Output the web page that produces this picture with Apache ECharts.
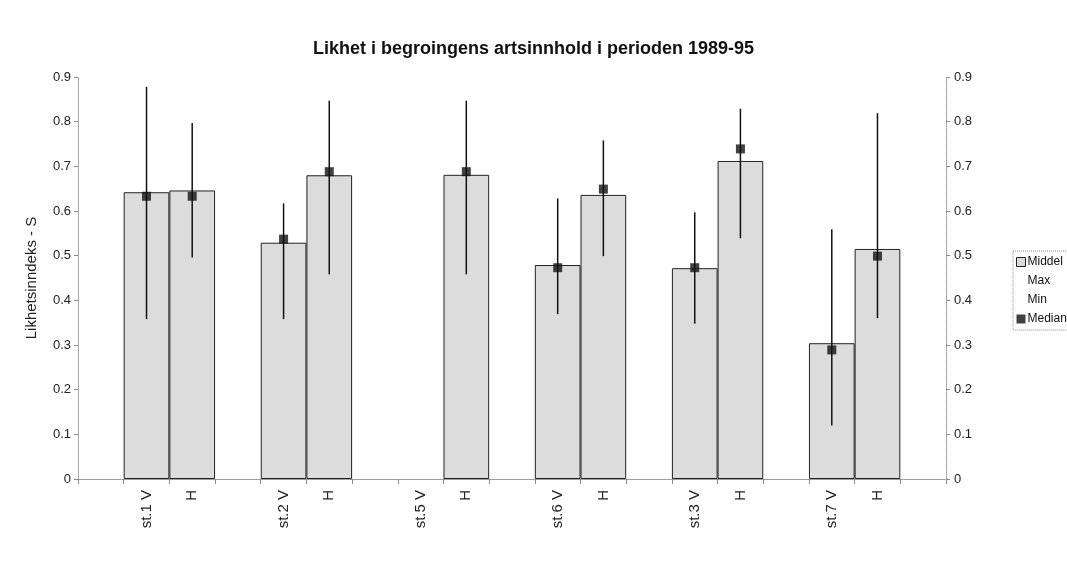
<!DOCTYPE html>
<html>
<head>
<meta charset="utf-8">
<script src="https://cdn.jsdelivr.net/npm/echarts@6/dist/echarts.min.js"></script>
<style>html,body{margin:0;padding:0;background:#fff;}#c{width:1067px;height:567px;}</style>
</head>
<body>
<div id="c"></div>
<script>
const titleText = 'Likhet i begroingens artsinnhold i perioden 1989-95';
const yAxisName = 'Likhetsinndeks - S';
const categories = ['', 'st.1 V', 'H', '', 'st.2 V', 'H', '', 'st.5 V', 'H', '', 'st.6 V', 'H', '', 'st.3 V', 'H', '', 'st.7 V', 'H', ''];
const middel = [null, 0.642, 0.646, null, 0.529, 0.680, null, null, 0.681, null, 0.479, 0.636, null, 0.472, 0.712, null, 0.304, 0.515, null];
const maxV   = [null, 0.878, 0.797, null, 0.617, 0.847, null, null, 0.847, null, 0.628, 0.758, null, 0.597, 0.829, null, 0.559, 0.819, null];
const minV   = [null, 0.358, 0.496, null, 0.358, 0.458, null, null, 0.458, null, 0.369, 0.499, null, 0.348, 0.539, null, 0.120, 0.360, null];
const median = [null, 0.633, 0.633, null, 0.537, 0.688, null, null, 0.688, null, 0.473, 0.649, null, 0.473, 0.739, null, 0.289, 0.499, null];
const yTicks = { min: 0, max: 0.9, interval: 0.1 };

const rangeData = [];
const medianData = [];
categories.forEach((c, i) => {
  if (maxV[i] != null) rangeData.push([i, minV[i], maxV[i]]);
  if (median[i] != null) medianData.push([i, median[i]]);
});

const chart = echarts.init(document.getElementById('c'), null, { renderer: 'canvas' });
const FONT = 'Arial, Liberation Sans, sans-serif';
const axisTxt = { color: '#222', fontFamily: FONT, fontSize: 13 };
const dotted = { color: '#999', type: 'dotted', width: 1 };

chart.setOption({
  animation: false,
  backgroundColor: '#fff',
  title: {
    text: titleText, left: 'center', top: 35,
    textStyle: { fontFamily: FONT, fontWeight: 'bold', fontSize: 18, color: '#111' }
  },
  legend: {
    orient: 'vertical', left: 1013, top: 251,
    itemWidth: 9, itemHeight: 9, itemGap: 7,
    padding: [5, 3, 5, 3],
    borderColor: '#888', borderWidth: 1, borderType: 'dotted',
    textStyle: { fontFamily: FONT, fontSize: 12, color: '#111', padding: [0, 0, 0, -3] },
    data: [
      { name: 'Middel', icon: 'rect', itemStyle: { color: '#dadada', borderColor: '#222', borderWidth: 1 } },
      { name: 'Max', icon: 'rect', itemStyle: { color: 'rgba(0,0,0,0)', borderWidth: 0 } },
      { name: 'Min', icon: 'rect', itemStyle: { color: 'rgba(0,0,0,0)', borderWidth: 0 } },
      { name: 'Median', icon: 'rect', itemStyle: { color: '#111' } }
    ],
    selectedMode: false
  },
  grid: { left: 78, right: 121, top: 77, bottom: 88 },
  xAxis: [
    {
      type: 'category', data: categories, position: 'bottom',
      axisLine: { lineStyle: dotted },
      axisTick: { show: true, length: 5, lineStyle: { color: '#888' } },
      axisLabel: Object.assign({ rotate: 90, interval: 0, margin: 11 }, axisTxt, { fontSize: 15 }),
      splitLine: { show: false }
    },
    {
      type: 'category', data: categories, position: 'top',
      axisLine: { lineStyle: dotted },
      axisTick: { show: false }, axisLabel: { show: false }, splitLine: { show: false }
    }
  ],
  yAxis: [
    {
      type: 'value', min: yTicks.min, max: yTicks.max, interval: yTicks.interval, position: 'left',
      name: yAxisName, nameLocation: 'middle', nameGap: 39,
      nameTextStyle: Object.assign({}, axisTxt, { fontSize: 15 }),
      axisLine: { show: true, lineStyle: dotted },
      axisTick: { show: true, length: 4, lineStyle: { color: '#888' } },
      axisLabel: Object.assign({ margin: 7 }, axisTxt),
      splitLine: { show: false }
    },
    {
      type: 'value', min: yTicks.min, max: yTicks.max, interval: yTicks.interval, position: 'right',
      axisLine: { show: true, lineStyle: dotted },
      axisTick: { show: true, length: 4, lineStyle: { color: '#888' } },
      axisLabel: Object.assign({ margin: 8 }, axisTxt),
      splitLine: { show: false }
    }
  ],
  series: [
    {
      name: 'Middel', type: 'bar', data: middel, barCategoryGap: 0, barGap: 0,
      itemStyle: { color: '#dcdcdc', borderColor: '#222', borderWidth: 1 },
      z: 2
    },
    {
      name: 'Max', type: 'custom', data: rangeData, z: 3,
      renderItem: function (params, api) {
        const x = api.value(0);
        const lo = api.coord([x, api.value(1)]);
        const hi = api.coord([x, api.value(2)]);
        return { type: 'line', shape: { x1: lo[0], y1: lo[1], x2: hi[0], y2: hi[1] }, style: { stroke: '#111', lineWidth: 1.5 } };
      },
      encode: { x: 0, y: [1, 2] }
    },
    { name: 'Min', type: 'line', data: [], showSymbol: false },
    {
      name: 'Median', type: 'scatter', data: medianData, symbol: 'rect', symbolSize: 9,
      itemStyle: { color: '#111' }, z: 4
    }
  ]
});
</script>
</body>
</html>
